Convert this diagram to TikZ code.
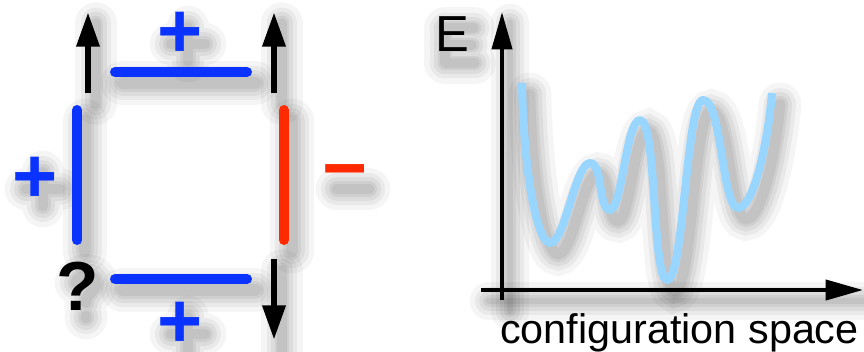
\documentclass[tikz,border=0pt]{standalone}
\usepackage{fontspec}
\setmainfont{Liberation Sans}
\usetikzlibrary{arrows.meta}
\definecolor{pblue}{HTML}{0A33FF}
\definecolor{pred}{HTML}{FF2A00}
\definecolor{curveblue}{HTML}{99D6FF}
\tikzset{
  shd/.style={
    preaction={draw=black,draw opacity=0.04,line width=#1+26pt,line cap=round,arrows=-,transform canvas={shift={(8,11)}}},
    preaction={draw=black,draw opacity=0.05,line width=#1+18pt,line cap=round,arrows=-,transform canvas={shift={(8,11)}}},
    preaction={draw=black,draw opacity=0.055,line width=#1+12pt,line cap=round,arrows=-,transform canvas={shift={(8,11)}}},
    preaction={draw=black,draw opacity=0.06,line width=#1+6pt,line cap=round,arrows=-,transform canvas={shift={(8,11)}}},
    preaction={draw=black,draw opacity=0.06,line width=#1+2pt,line cap=round,arrows=-,transform canvas={shift={(8,11)}}},
    line width=#1},
  bar/.style={shd=7.5pt,line cap=round},
  arr/.style={shd=5pt,-{Triangle[length=26pt,width=16.5pt]}},
  axis/.style={shd=3pt,-{Triangle[length=28pt,width=15pt]}},
  sign/.style={font=\fontsize{58}{58}\bfseries,inner sep=0pt},
  qmark/.style={font=\fontsize{52}{52}\bfseries,inner sep=0pt},
}
\begin{document}
\begin{tikzpicture}[x=0.75pt,y=-0.75pt]
\useasboundingbox (0,0) rectangle (864,351);
% ---------- shadows of the texts (shapes only) ----------
\foreach \cx/\cy in {180/33,35/178,180/323}{
  \path[shd=6pt] (\cx-17,\cy) -- (\cx+17,\cy) (\cx,\cy-17) -- (\cx,\cy+17);
}
\path[shd=6pt] (329,178) -- (361,178);
\path[shd=6pt] (68,272) .. controls (70,262) and (88,262) .. (88,272) .. controls (88,282) and (78,280) .. (78,292) (78,305) -- (78,307);
\path[shd=5pt] (437,17) -- (437,52) (437,17) -- (466,17) (437,34) -- (464,34) (437,52) -- (467,52);
% ---------- left panel ----------
\coordinate (a1s) at (88,93);  \coordinate (a1e) at (88,12);
\coordinate (a2s) at (274,93); \coordinate (a2e) at (274,12);
\coordinate (a3s) at (274,259);\coordinate (a3e) at (274,340);
\coordinate (t1) at (115,72);  \coordinate (t2) at (247,72);
\coordinate (b1) at (115,279); \coordinate (b2) at (247,279);
\coordinate (l1) at (77,110);  \coordinate (l2) at (77,240);
\coordinate (r1) at (284,110); \coordinate (r2) at (284,240);
\draw[arr] (a1s) -- (a1e);
\draw[arr] (a2s) -- (a2e);
\draw[arr] (a3s) -- (a3e);
\draw[bar,pblue] (t1) -- (t2);
\draw[bar,pblue] (b1) -- (b2);
\draw[bar,pblue] (l1) -- (l2);
\draw[bar,pred] (r1) -- (r2);
\node[sign,text=pblue] (ptop) at (180,35) {+};
\node[sign,text=pblue] (pleft) at (35,180) {+};
\node[sign,text=pblue] (pbot) at (180,325) {+};
\node[sign,text=pred] (minus) at (345,180) {−};
\node[qmark] (q) at (78,286) {?};
% ---------- right panel ----------
\coordinate (yo) at (502,300); \coordinate (ye) at (502,12);
\coordinate (xo) at (481,290); \coordinate (xe) at (863,290);
\draw[axis] (yo) -- (ye);
\draw[axis] (xo) -- (xe);
\node[font=\fontsize{38}{38}\selectfont,inner sep=0pt] (E) at (452,34.5) {E};
\node[font=\fontsize{31}{31}\selectfont,inner sep=0pt,anchor=base west] (cs) at (500,343) {configuration space};
\coordinate (c0) at (522,83);
\coordinate (c1) at (550,243);
\coordinate (c2) at (590,163);
\coordinate (c3) at (610,210);
\coordinate (c4) at (640,120);
\coordinate (c5) at (667,280);
\coordinate (c6) at (703,100);
\coordinate (c7) at (738,208);
\coordinate (c8) at (772,93);
\draw[shd=6pt,curveblue,line join=round,line cap=butt]
  (c0) .. controls (524,180) and (538,243) .. (c1)
       .. controls (565,243) and (575,163) .. (c2)
       .. controls (603,163) and (598,210) .. (c3)
       .. controls (622,210) and (626,120) .. (c4)
       .. controls (657,120) and (652,280) .. (c5)
       .. controls (684,280) and (686,100) .. (c6)
       .. controls (722,100) and (722,208) .. (c7)
       .. controls (754,208) and (768,140) .. (c8);
\end{tikzpicture}
\end{document}
